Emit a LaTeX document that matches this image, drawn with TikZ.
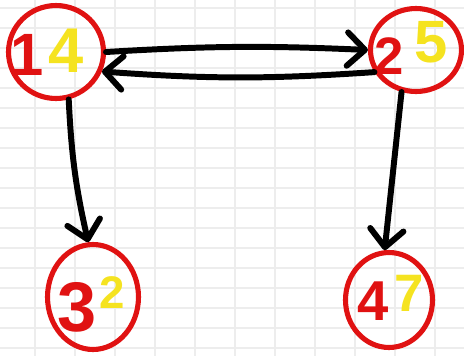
\documentclass[tikz,border=0pt]{standalone}
\usepackage{fontspec}
\setmainfont{Liberation Sans}
\usetikzlibrary{shapes.geometric,arrows.meta}
\definecolor{inkred}{HTML}{E01212}
\definecolor{inkyellow}{HTML}{F5E320}
\definecolor{gridgray}{HTML}{EDEDED}
\tikzset{
    vertex/.style={ellipse, draw=inkred, line width=2.9pt, inner sep=0pt},
    rednum/.style={text=inkred, inner sep=0pt, font=\bfseries\fontsize{#1}{#1}\selectfont},
    yelnum/.style={text=inkyellow, inner sep=0pt, font=\bfseries\fontsize{#1}{#1}\selectfont},
    link/.style={line width=3.4pt, line cap=round, -{Straight Barb[round, length=10pt, width=19pt]}},
    gridline/.style={draw=gridgray, line width=1.2pt}
}
\begin{document}
\begin{tikzpicture}[x=0.02cm, y=-0.02cm]
    \useasboundingbox (0,0) rectangle (464,356);
    \foreach \gx in {35,75,...,435} \draw[gridline] (\gx,0) -- (\gx,356);
    \foreach \gy in {8,28,...,348} \draw[gridline] (0,\gy) -- (464,\gy);
    \node[vertex, minimum width=1.9cm, minimum height=1.86cm] (n1) at (56,52) {};
    \node[vertex, minimum width=1.82cm, minimum height=1.66cm] (n2) at (416,50) {};
    \node[vertex, minimum width=1.82cm, minimum height=2.1cm] (n3) at (93,297) {};
    \node[vertex, minimum width=1.74cm, minimum height=1.9cm] (n4) at (389,300) {};
    \node[rednum=34] (i1) at (27,55) {1};
    \node[yelnum=36] (w1) at (66,51) {4};
    \node[rednum=30] (i2) at (389,56) {2};
    \node[yelnum=34] (w2) at (431,42) {5};
    \node[rednum=40] (i3) at (77,307) {3};
    \node[yelnum=26] (w3) at (112,293) {2};
    \node[rednum=32] (i4) at (373,301) {4};
    \node[yelnum=30] (w4) at (409,293) {7};
    \path (n1.east) edge[link, bend left=3] (n2.west);
    \path (n2.208) edge[link, bend left=4] (n1.-23);
    \path (n1.-75) edge[link, bend right=5] (n3.95);
    \path (n2.-109) edge[link] (n4.95);
\end{tikzpicture}
\end{document}
